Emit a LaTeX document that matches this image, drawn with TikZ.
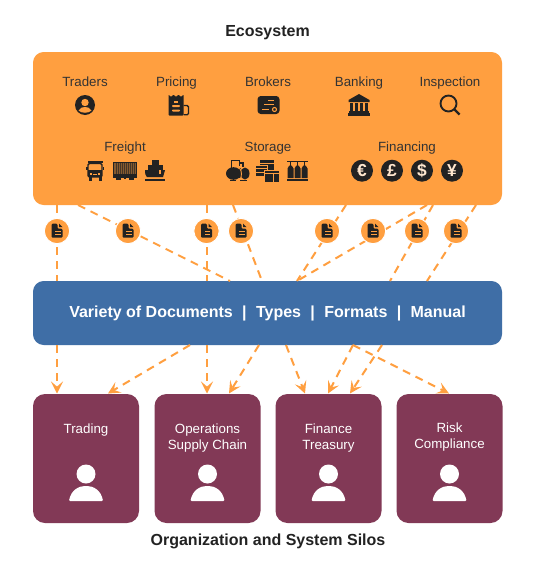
\documentclass[tikz,border=0pt]{standalone}
\usepackage{fontspec}
\setmainfont{Liberation Sans}
\usetikzlibrary{arrows.meta}
\definecolor{orng}{HTML}{FF9F40}
\definecolor{blu}{HTML}{3F6EA6}
\definecolor{plum}{HTML}{823956}
\definecolor{ink}{HTML}{222222}
\definecolor{txt}{HTML}{333333}
\tikzset{
 x=0.75pt,y=-0.75pt,
 lbl/.style={font=\fontsize{10pt}{12pt}\selectfont,text=txt,inner sep=0pt,anchor=base},
 silolbl/.style={font=\fontsize{10pt}{12pt}\selectfont,text=white,inner sep=0pt,align=center},
 ttl/.style={font=\bfseries\fontsize{12pt}{14pt}\selectfont,text=ink,inner sep=0pt,anchor=base},
 ecobox/.style={fill=orng,rounded corners=8pt,inner sep=0pt,minimum width=351.75pt,minimum height=114.75pt},
 docbox/.style={fill=blu,rounded corners=8pt,inner sep=0pt,minimum width=351.75pt,minimum height=48pt,text=white,font=\bfseries\fontsize{12pt}{14pt}\selectfont},
 silobox/.style={fill=plum,rounded corners=9pt,inner sep=0pt,minimum width=79.5pt,minimum height=96.75pt},
 badge/.style={circle,fill=orng,draw=white,line width=0.75pt,inner sep=0pt,minimum size=19pt},
 feed/.style={draw=orng,line width=1.5pt,dash pattern=on 6pt off 4.5pt},
 flow/.style={feed,-{Stealth[length=9pt,width=9pt,inset=3.8pt]}},
 money/.style={circle,fill=ink,text=orng!25!white,inner sep=0pt,minimum size=16.5pt,font=\bfseries\fontsize{13pt}{13pt}\selectfont},
 pics/docicon/.style={code={
   \fill[ink,rounded corners=0.8pt] (-5.5,-7) -- (0.5,-7) -- (0.5,-2) -- (5.5,-2) -- (5.5,7) -- (-5.5,7) -- cycle;
   \fill[ink] (2,-7) -- (5.5,-3.5) -- (2,-3.5) -- cycle;
   \fill[orng] (-2,0) rectangle (3.5,1.4);
   \fill[orng] (-2,3) rectangle (3.5,4.4);
 }},
 pics/person/.style={code={
   \fill[white] (0,-10) circle (9.5);
   \fill[white,rounded corners=0.8pt] (-17,17) .. controls (-15,6) and (-7,2) .. (0,2) .. controls (7,2) and (15,6) .. (17,17) -- cycle;
 }},
 pics/trader/.style={code={
   \fill[ink] (0,0) circle (10);
   \fill[orng] (0,-2.5) circle (3.7);
   \fill[orng] (-6.5,5.5) .. controls (-5,2.5) and (-2,2) .. (0,2) .. controls (2,2) and (5,2.5) .. (6.5,5.5) .. controls (4,8.5) and (-4,8.5) .. (-6.5,5.5) -- cycle;
 }},
 pics/pricing/.style={code={
   \fill[ink,rounded corners=0.6pt] (-10,10) -- (-10,-11) -- (-7.5,-8.5) -- (-5,-11) -- (-2.5,-8.5) -- (0,-11) -- (2.5,-8.5) -- (5,-11) -- (5,10) -- cycle;
   \draw[ink,line width=1pt,rounded corners=1pt] (5,0) -- (10,0) -- (10,9.3) -- (5,9.3);
   \fill[orng] (-5,-4.5) rectangle (-1,-3);
   \fill[orng,rounded corners=0.6pt] (-6.5,-0.5) rectangle (1.5,1.5);
   \fill[orng,rounded corners=0.6pt] (-6.5,4) rectangle (1.5,6);
 }},
 pics/broker/.style={code={
   \fill[ink,rounded corners=2.5pt] (-11,-9) rectangle (11,9);
   \fill[orng] (-1,-5.5) rectangle (5,-4);
   \fill[orng] (-5,-1.5) rectangle (5,0);
   \fill[orng] (-7,3.5) rectangle (0,5);
   \draw[orng,line width=0.8pt] (6,4.5) circle (2);
 }},
 pics/bank/.style={code={
   \fill[ink] (0,-11) -- (10.5,-5) -- (10.5,-3) -- (-10.5,-3) -- (-10.5,-5) -- cycle;
   \foreach \cx in {-7.5,-2.5,2.5,7.5}{\fill[ink] (\cx-1.5,-2) rectangle (\cx+1.5,6);}
   \fill[ink] (-10,6) rectangle (10,8.2);
   \fill[ink] (-11,8.2) rectangle (11,10.5);
 }},
 pics/lens/.style={code={
   \draw[ink,line width=1.4pt] (-1.5,-1.5) circle (8);
   \draw[ink,line width=1.6pt] (4.5,4.5) -- (9.5,9.5);
 }},
 pics/truck/.style={code={
   \fill[ink] (-7.5,-10) rectangle (7.5,-8);
   \draw[ink,line width=1pt,rounded corners=1pt] (-7,-7.5) -- (7,-7.5) -- (7,6) -- (-7,6) -- cycle;
   \fill[ink] (-7,-1) rectangle (7,6);
   \fill[orng] (-5,2) rectangle (-3,3.5);
   \fill[orng] (3,2) rectangle (5,3.5);
   \fill[orng] (-2,2.5) rectangle (2,3.5);
   \fill[ink] (-6.5,6) rectangle (-3.5,10);
   \fill[ink] (3.5,6) rectangle (6.5,10);
   \fill[ink] (-9,-4.5) rectangle (-7.5,-1);
   \fill[ink] (7.5,-4.5) rectangle (9,-1);
 }},
 pics/container/.style={code={
   \fill[ink] (-12,-8.5) rectangle (12,5);
   \fill[orng!45!ink] (-11,-7.3) rectangle (11,3.8);
   \foreach \k in {-9.5,-7.5,...,10}{\fill[ink!85!orng] (\k,-7.3) rectangle (\k+0.7,3.8);}
   \fill[ink] (-12,5.5) rectangle (12,7);
   \fill[ink] (-9,7) rectangle (-4,9.5);
   \fill[ink] (4,7) rectangle (9,9.5);
   \fill[ink] (-1,7) rectangle (1,8);
 }},
 pics/ship/.style={code={
   \fill[ink] (-3.5,-10.5) rectangle (3.5,-6);
   \fill[ink] (-7.5,-6) rectangle (7.5,-1);
   \fill[ink] (-10,-0.5) -- (10,-0.5) -- (8,6.5) -- (-8,6.5) .. controls (-9.5,5) and (-10,3) .. (-10,-0.5) -- cycle;
   \fill[orng] (3.5,-0.5) rectangle (6,3);
   \fill[ink] (-10,8) rectangle (10,9.8);
 }},
 pics/tanks/.style={code={
   \fill[ink] (8,3.5) ellipse (4.5 and 6);
   \fill[ink] (-3.5,3.5) ellipse (7.5 and 6.3);
   \fill[ink] (2,-2) -- (2,8) -- (4,8) -- (4,-2) -- cycle;
   \draw[orng,line width=0.7pt] (2.5,-2) .. controls (5,1) and (5,6) .. (3,10);
   \draw[ink,line width=1.1pt] (-5.5,-2.5) -- (-5.5,-9.5) -- (2.5,-9.5) -- (2.5,-4);
   \draw[ink,line width=1.1pt] (2.5,-7) -- (6,-7) -- (6,-3);
   \fill[ink] (-7,10) rectangle (-1,10.8);
   \fill[ink] (3,10) rectangle (10,10.8);
 }},
 pics/depots/.style={code={
   \fill[ink] (-7,-11) rectangle (7,-1);
   \fill[orng] (-7,-8) rectangle (7,-7.2);
   \fill[ink] (-12,-5) rectangle (0,6);
   \draw[orng,line width=0.5pt] (-12,-5) rectangle (0,6);
   \draw[orng,line width=0.6pt] (-12,-2) -- (0,-2) (-12,1.5) -- (0,1.5);
   \fill[ink] (-3,-0.5) rectangle (12,11.5);
   \draw[orng,line width=0.6pt] (-3,-0.5) rectangle (12,11.5);
   \draw[orng,line width=0.6pt] (-3,2.5) -- (12,2.5);
   \draw[orng,line width=0.6pt] (6,3) -- (6,11.5);
 }},
 pics/cylinders/.style={code={
   \fill[ink] (-10.5,-10) rectangle (10.5,-9.2);
   \foreach \k in {-7,0,7}{
     \fill[ink] (\k-0.5,-9.5) rectangle (\k+0.5,-5);
     \fill[ink] (\k-1.2,-5) -- (\k+1.2,-5) -- (\k+3,-2) -- (\k+3,7.5) -- (\k-3,7.5) -- (\k-3,-2) -- cycle;
   }
   \fill[ink] (-10.5,8) rectangle (10.5,10);
 }},
}
\newcommand{\sepbar}{\ \ \kern0.35pt|\kern0.35pt\ \ }
\begin{document}
\begin{tikzpicture}
\useasboundingbox (0,0) rectangle (542,575);
\fill[white] (0,0) rectangle (542,575);

% main boxes
\node[ecobox] (eco) at (267.5,128.5) {};
\node[docbox] (docs) at (267.5,313) {Variety of Documents\sepbar Types\sepbar Formats\sepbar Manual};
\node[silobox] (s1) at (86,458.5) {};
\node[silobox] (s2) at (207.5,458.5) {};
\node[silobox] (s3) at (328.5,458.5) {};
\node[silobox] (s4) at (449.5,458.5) {};

% titles
\node[ttl] (t1) at (267.5,36.5) {Ecosystem};
\node[ttl] (t2) at (268,545) {Organization and System Silos};

% ecosystem labels
\node[lbl] (l1) at (85,86) {Traders};
\node[lbl] (l2) at (176.5,86) {Pricing};
\node[lbl] (l3) at (268,86) {Brokers};
\node[lbl] (l4) at (359,86) {Banking};
\node[lbl] (l5) at (450,86) {Inspection};
\node[lbl] (l6) at (125,151) {Freight};
\node[lbl] (l7) at (268,151) {Storage};
\node[lbl] (l8) at (407,151) {Financing};

% ecosystem icons
\pic at (85,105) {trader};
\pic at (178.5,105.5) {pricing};
\pic at (268.5,105) {broker};
\pic at (359,105) {bank};
\pic at (450,105) {lens};
\pic at (95,171) {truck};
\pic at (125,170.5) {container};
\pic at (155,170.7) {ship};
\pic at (237,170) {tanks};
\pic at (267,170.5) {depots};
\pic at (297.5,170.5) {cylinders};
\node[money] (m1) at (362,170.7) {€};
\node[money] (m2) at (392,170.7) {£};
\node[money] (m3) at (422,170.7) {\$};
\node[money] (m4) at (452,170.7) {¥};

% silo labels and people
\node[silolbl] (a1) at (86,430.5) {Trading};
\node[silolbl] (a2) at (207.5,438) {Operations\\Supply Chain};
\node[silolbl] (a3) at (328.5,438) {Finance\\Treasury};
\node[silolbl] (a4) at (449.5,437.5) {Risk\\Compliance};
\pic at (86,484) {person};
\pic at (207.5,484) {person};
\pic at (328.5,484) {person};
\pic at (449.5,484) {person};

% connector end points
\foreach \nm/\px in {a/57,b/78,c/207,d/233,e/346,f/427,g/433,h/476}{\coordinate (up\nm) at (\px,205);}
\foreach \nm/\px in {a/57,b/230,c/207,d/262,e/297,f/297,g/390,h/427}{\coordinate (lo\nm) at (\px,281);}
\foreach \nm/\px in {a/57,b/190,c/207,d/259,e/286,f/353,g/382,h/353}{\coordinate (fr\nm) at (\px,345);}
\foreach \nm/\px in {a/57,b/108,c/207,d/229,e/305,f/328,g/350,h/449}{\coordinate (to\nm) at (\px,393.5);}

% ecosystem to documents
\foreach \nm in {a,b,c,d,e,f,g,h}{\draw[feed] (up\nm) -- (lo\nm);}
% documents to silos
\foreach \nm in {a,b,c,d,e,f,g,h}{\draw[flow] (fr\nm) -- (to\nm);}

% badges
\foreach \nm/\px in {a/57,b/128,c/206.5,d/241,e/327,f/373,g/417,h/456}{
  \node[badge] (bd\nm) at (\px,231) {};
  \pic at (\px,230.7) {docicon};
}
\end{tikzpicture}
\end{document}
